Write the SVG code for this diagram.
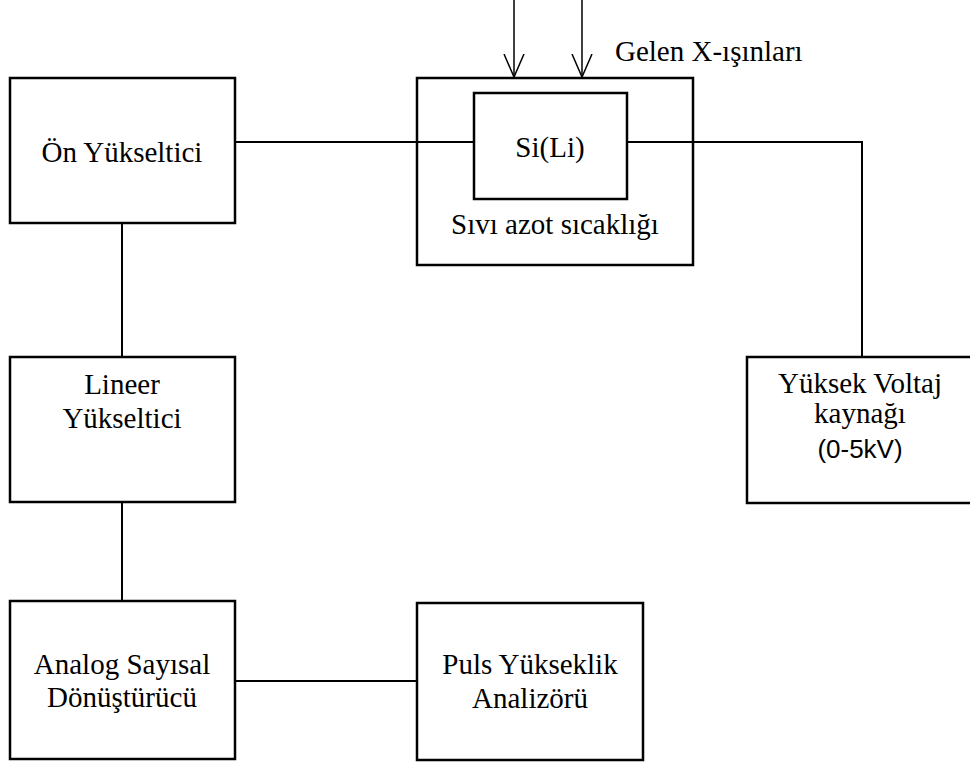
<svg xmlns="http://www.w3.org/2000/svg" width="970" height="762" viewBox="0 0 970 762">
<defs>
<style>
.box{fill:#fff;stroke:#000;stroke-width:2.5}
.ln{fill:none;stroke:#000;stroke-width:2}
.t{font-family:"Liberation Serif","Times New Roman",serif;font-size:29px;fill:#000;text-anchor:middle}
.s{font-family:"Liberation Sans",Arial,sans-serif;font-size:26px;fill:#000;text-anchor:middle}
</style>
<marker id="open" viewBox="0 0 24 22" refX="23" refY="11" markerWidth="24" markerHeight="22" markerUnits="userSpaceOnUse" orient="auto">
<path d="M0,1 L23,11 L0,21" fill="none" stroke="#000" stroke-width="1.5"/>
</marker>
</defs>
<rect width="970" height="762" fill="#fff"/>
<g id="connectors">
<line class="ln" x1="514" y1="0" x2="514" y2="77" marker-end="url(#open)" style="stroke-width:1.5"/>
<line class="ln" x1="582" y1="0" x2="582" y2="77" marker-end="url(#open)" style="stroke-width:1.5"/>
<line class="ln" x1="236" y1="142" x2="474" y2="142"/>
<polyline class="ln" points="627,142 862,142 862,357"/>
<line class="ln" x1="122" y1="223" x2="122" y2="357"/>
<line class="ln" x1="122" y1="502" x2="122" y2="601"/>
<line class="ln" x1="235" y1="681" x2="417" y2="681"/>
</g>
<g id="cryostat">
<rect class="box" x="417" y="78" width="276" height="187" style="fill:none"/>
<text class="t" x="555" y="234">Sıvı azot sıcaklığı</text>
</g>
<g id="siLi">
<rect class="box" x="474" y="93" width="153" height="106"/>
<text class="t" x="550" y="157">Si(Li)</text>
</g>
<text class="t" x="615" y="61" style="text-anchor:start">Gelen X-ışınları</text>
<g id="onYukseltici">
<rect class="box" x="10" y="78" width="225" height="145"/>
<text class="t" x="122" y="162">Ön Yükseltici</text>
</g>
<g id="lineer">
<rect class="box" x="10" y="357" width="225" height="145"/>
<text class="t" x="122" y="394">Lineer</text>
<text class="t" x="122" y="428">Yükseltici</text>
</g>
<g id="adc">
<rect class="box" x="10" y="601" width="225" height="158"/>
<text class="t" x="122" y="674">Analog Sayısal</text>
<text class="t" x="122" y="707">Dönüştürücü</text>
</g>
<g id="puls">
<rect class="box" x="417" y="603" width="226" height="157"/>
<text class="t" x="530" y="674">Puls Yükseklik</text>
<text class="t" x="530" y="708">Analizörü</text>
</g>
<g id="hv">
<rect class="box" x="747" y="357" width="240" height="146"/>
<text class="t" x="860" y="393">Yüksek Voltaj</text>
<text class="t" x="860" y="423">kaynağı</text>
<text class="s" x="860" y="458">(0-5kV)</text>
</g>
</svg>
